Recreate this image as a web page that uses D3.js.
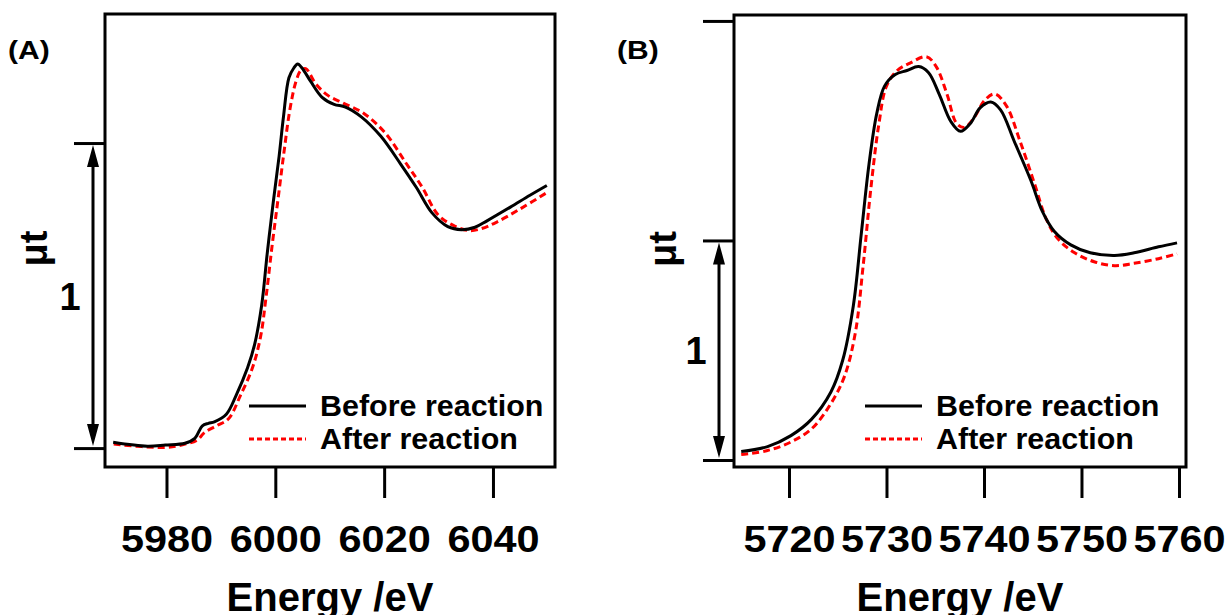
<!DOCTYPE html>
<html>
<head>
<meta charset="utf-8">
<script src="https://cdn.jsdelivr.net/npm/d3@7"></script>
<style>
body { margin: 0; background: #fff; }
text { font-family: "Liberation Sans", Arial, sans-serif; font-weight: bold; fill: #000; }
</style>
</head>
<body>
<script>
(function(){

// panel (A) - energy (eV) and normalised absorption
var aBeforeE  = [5970.2, 5976.5, 5979.8, 5983.4, 5985.2, 5986.6, 5987.7, 5988.8, 5991.0, 5992.8, 5994.9, 5996.2, 5997.5, 5998.5, 5999.6, 6000.7, 6001.5, 6002.5, 6003.4, 6004.1, 6004.9, 6006.5, 6008.6, 6010.8, 6012.9, 6015.8, 6019.4, 6023.0, 6025.9, 6028.8, 6031.7, 6034.2, 6036.7, 6038.9, 6043.2, 6046.8, 6049.9];
var aBeforeMu = [0.019, 0.006, 0.010, 0.016, 0.032, 0.073, 0.081, 0.086, 0.111, 0.173, 0.263, 0.340, 0.469, 0.636, 0.803, 0.957, 1.086, 1.214, 1.246, 1.259, 1.246, 1.202, 1.150, 1.127, 1.118, 1.086, 1.022, 0.932, 0.855, 0.771, 0.726, 0.716, 0.724, 0.745, 0.790, 0.829, 0.861];
var aAfterE  = [5970.3, 5979.8, 5983.4, 5985.6, 5987.0, 5989.2, 5991.4, 5993.6, 5995.8, 5997.3, 5998.3, 5999.4, 6000.5, 6001.6, 6002.7, 6003.8, 6004.7, 6005.6, 6007.4, 6009.6, 6012.5, 6016.1, 6020.1, 6024.1, 6027.0, 6029.9, 6032.8, 6035.6, 6037.8, 6040.7, 6045.0, 6050.3];
var aAfterMu = [0.013, 0.002, 0.013, 0.026, 0.051, 0.073, 0.096, 0.173, 0.263, 0.366, 0.495, 0.662, 0.816, 0.971, 1.112, 1.202, 1.238, 1.244, 1.195, 1.157, 1.131, 1.099, 1.035, 0.932, 0.855, 0.765, 0.729, 0.713, 0.719, 0.741, 0.784, 0.842];

// panel (B)
var bBeforeE  = [5715.1, 5717.8, 5720.2, 5722.3, 5724.3, 5725.5, 5726.6, 5727.4, 5728.2, 5729.0, 5729.8, 5730.9, 5732.1, 5733.3, 5734.3, 5735.4, 5736.6, 5737.6, 5738.6, 5739.6, 5740.7, 5741.7, 5743.1, 5744.8, 5746.0, 5747.2, 5748.9, 5750.9, 5753.4, 5755.4, 5757.9, 5759.8];
var bBeforeMu = [0.039, 0.061, 0.111, 0.185, 0.310, 0.453, 0.703, 1.024, 1.345, 1.578, 1.703, 1.756, 1.774, 1.792, 1.765, 1.667, 1.542, 1.497, 1.533, 1.604, 1.631, 1.595, 1.452, 1.274, 1.131, 1.042, 0.980, 0.944, 0.932, 0.944, 0.971, 0.989];
var bAfterE  = [5715.1, 5717.8, 5720.2, 5722.3, 5724.3, 5725.7, 5726.8, 5727.6, 5728.4, 5729.2, 5730.0, 5731.1, 5732.5, 5734.1, 5735.1, 5736.2, 5737.2, 5738.0, 5739.0, 5740.1, 5741.1, 5742.3, 5743.7, 5745.2, 5746.4, 5747.6, 5749.3, 5751.3, 5753.4, 5755.4, 5757.9, 5759.8];
var bAfterMu = [0.025, 0.043, 0.082, 0.141, 0.257, 0.382, 0.578, 0.882, 1.238, 1.524, 1.703, 1.774, 1.810, 1.837, 1.792, 1.667, 1.533, 1.515, 1.560, 1.640, 1.667, 1.613, 1.452, 1.256, 1.096, 1.006, 0.944, 0.903, 0.885, 0.896, 0.917, 0.939];

var aTicks = [5980, 6000, 6020, 6040];
var bTicks = [5720, 5730, 5740, 5750, 5760];
var legendLabels = ["Before reaction", "After reaction"];

var svg = d3.select("body").append("svg")
    .attr("width", 1227)
    .attr("height", 615);

drawPanel({
    label: "(A)", labelX: 8,
    left: 105, right: 555, top: 14, bottom: 467,
    xDomain: [5968.7, 6051.4], yDomain: [-0.062, 1.423],
    xTicks: aTicks, yTicks: [0, 1], arrowX: 93,
    before: [aBeforeE, aBeforeMu], after: [aAfterE, aAfterMu],
    legendX: 249, legendY: 406
});

drawPanel({
    label: "(B)", labelX: 617,
    left: 734, right: 1186, top: 15, bottom: 467,
    xDomain: [5714.36, 5760.72], yDomain: [-0.032, 2.027],
    xTicks: bTicks, yTicks: [0, 1, 2], arrowX: 719,
    before: [bBeforeE, bBeforeMu], after: [bAfterE, bAfterMu],
    legendX: 865, legendY: 406
});

//the source lettering is a little wider than Arial, widen glyphs to match
function stretch(sel, f){
    sel.each(function(){
        var w = this.getComputedTextLength();
        d3.select(this).attr("textLength", w * f).attr("lengthAdjust", "spacingAndGlyphs");
    });
}

function drawPanel(p){
    var x = d3.scaleLinear().domain(p.xDomain).range([p.left, p.right]);
    var y = d3.scaleLinear().domain(p.yDomain).range([p.bottom, p.top]);
    var g = svg.append("g");

    //x axis: ticks hang below the frame
    var xAxis = g.append("g")
        .attr("transform", "translate(0," + p.bottom + ")")
        .call(d3.axisBottom(x).tickValues(p.xTicks).tickFormat(d3.format("d"))
            .tickSize(31).tickSizeOuter(0).tickPadding(28));
    xAxis.select(".domain").remove();
    xAxis.selectAll("line").attr("stroke", "#000").attr("stroke-width", 3);
    xAxis.selectAll("text")
        .attr("font-family", "Liberation Sans, Arial, sans-serif")
        .attr("font-weight", "bold")
        .attr("font-size", 36)
        .call(stretch, 1.15);

    //y axis: bare tick marks, no labels
    var yAxis = g.append("g")
        .attr("transform", "translate(" + p.left + ",0)")
        .call(d3.axisLeft(y).tickValues(p.yTicks).tickFormat("").tickSize(31).tickSizeOuter(0));
    yAxis.select(".domain").remove();
    yAxis.selectAll("line").attr("stroke", "#000").attr("stroke-width", 3);

    //double headed arrow spanning one unit
    var y0 = y(0), y1 = y(1), ax = p.arrowX, hw = 6, hh = 24;
    g.append("line")
        .attr("x1", ax).attr("x2", ax)
        .attr("y1", y1 + 10).attr("y2", y0 - 10)
        .attr("stroke", "#000").attr("stroke-width", 3);
    g.append("path")
        .attr("d", "M" + ax + "," + (y1 + 2) + "L" + (ax - hw) + "," + (y1 + hh) + "L" + (ax + hw) + "," + (y1 + hh) + "Z"
            + "M" + ax + "," + (y0 - 2) + "L" + (ax - hw) + "," + (y0 - hh) + "L" + (ax + hw) + "," + (y0 - hh) + "Z")
        .attr("fill", "#000");
    g.append("text")
        .attr("x", ax - 23).attr("y", (y0 + y1) / 2 + 14)
        .attr("text-anchor", "middle")
        .attr("font-size", 38)
        .text("1");

    //y title
    var my = (p.top + p.bottom) / 2;
    g.append("text")
        .attr("transform", "translate(" + (p.left - 58) + "," + (my + 8) + ") rotate(-90)")
        .attr("text-anchor", "middle")
        .attr("font-size", 38)
        .text("μt");

    //x title
    g.append("text")
        .attr("x", (p.left + p.right) / 2).attr("y", 611)
        .attr("text-anchor", "middle")
        .attr("font-size", 40)
        .text("Energy /eV");

    //panel tag
    g.append("text")
        .attr("x", p.labelX).attr("y", 59)
        .attr("font-size", 25)
        .text(p.label)
        .call(stretch, 1.2);

    //curves
    var line = d3.line()
        .x(function(d){ return x(d[0]); })
        .y(function(d){ return y(d[1]); })
        .curve(d3.curveCatmullRom);
    var after = p.after[0].map(function(e, i){ return [e, p.after[1][i]]; });
    var before = p.before[0].map(function(e, i){ return [e, p.before[1][i]]; });

    g.append("path").datum(after)
        .attr("d", line)
        .attr("fill", "none")
        .attr("stroke", "#ff0000")
        .attr("stroke-width", 3)
        .attr("stroke-dasharray", "7,4");
    g.append("path").datum(before)
        .attr("d", line)
        .attr("fill", "none")
        .attr("stroke", "#000")
        .attr("stroke-width", 3);

    //legend
    var leg = g.append("g").attr("transform", "translate(" + p.legendX + "," + p.legendY + ")");
    leg.append("line").attr("x1", 0).attr("x2", 57).attr("y1", 0).attr("y2", 0)
        .attr("stroke", "#000").attr("stroke-width", 3);
    leg.append("line").attr("x1", 0).attr("x2", 57).attr("y1", 33).attr("y2", 33)
        .attr("stroke", "#ff0000").attr("stroke-width", 3).attr("stroke-dasharray", "5,3");
    leg.selectAll("text.leg")
        .data(legendLabels)
        .enter()
        .append("text")
        .attr("class", "leg")
        .attr("x", 71)
        .attr("y", function(d, i){ return i * 33 + 10; })
        .attr("font-size", 29)
        .text(function(d){ return d; })
        .call(stretch, 1.05);

    //frame
    g.append("rect")
        .attr("x", p.left).attr("y", p.top)
        .attr("width", p.right - p.left).attr("height", p.bottom - p.top)
        .attr("fill", "none")
        .attr("stroke", "#000")
        .attr("stroke-width", 3);
}

})();
</script>
</body>
</html>
